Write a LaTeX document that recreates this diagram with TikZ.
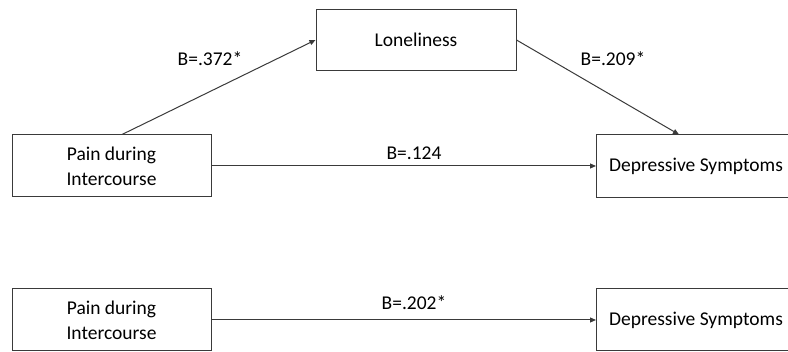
\documentclass[tikz,border=0pt]{standalone}
\usepackage{fontspec}
\setmainfont{Carlito}
\usetikzlibrary{arrows.meta}
\definecolor{edge}{HTML}{3A3A3A}
\begin{document}
\begin{tikzpicture}[x=1pt,y=-1pt,
  box/.style={draw=edge,line width=1pt,minimum width=199pt,minimum height=62pt,inner sep=0pt,align=center,
    font=\fontsize{19.5}{25}\selectfont},
  lbl/.style={font=\fontsize{19.5}{25}\selectfont,inner sep=0pt},
  conn/.style={draw=edge,line width=1pt,-{Triangle[length=6pt,width=5pt]}}]
\useasboundingbox (0,0) rectangle (788,352);
\clip (0,0) rectangle (788,352);
\node[box] (pain1) at (111.5,166) {Pain during\\Intercourse};
\node[box,minimum width=200pt,minimum height=61pt] (lon) at (416,40) {Loneliness};
\node[box,minimum height=63pt] (dep1) at (696,166.5) {Depressive Symptoms};
\node[box] (pain2) at (111.5,320) {Pain during\\Intercourse};
\node[box] (dep2) at (696,320) {Depressive Symptoms};
\draw[conn] ([xshift=10.5pt]pain1.north) -- (lon.west);
\draw[conn] (lon.east) -- ([xshift=-17pt]dep1.north);
\draw[conn] (pain1.east) -- (pain1.east -| dep1.west);
\draw[conn] (pain2.east) -- (dep2.west);
\node[lbl] (l1) at (210,59) {B=.372*};
\node[lbl] (l2) at (613,59) {B=.209*};
\node[lbl] (l3) at (414,153) {B=.124};
\node[lbl] (l4) at (414,303) {B=.202*};
\end{tikzpicture}
\end{document}
